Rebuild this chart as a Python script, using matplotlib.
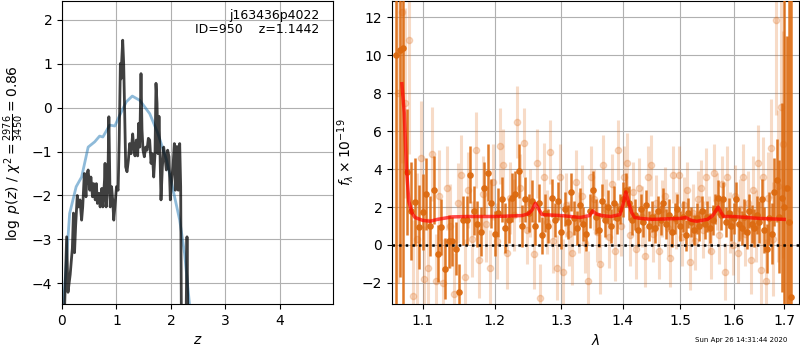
import numpy as np
import matplotlib
matplotlib.use('Agg')
import matplotlib.pyplot as plt
from matplotlib.ticker import FixedLocator, FormatStrFormatter, NullLocator

# ---- left panel: p(z) ----
z_prior = [0.02, 0.14, 0.26, 0.36, 0.48, 0.60, 0.69, 0.75, 0.875, 0.97, 1.06, 1.18, 1.29,
           1.43, 1.61, 1.76, 1.92, 2.04, 2.16, 2.25, 2.34, 2.40]
logp_prior = [-4.6, -2.41, -1.80, -1.58, -0.90, -0.78, -0.65, -0.67, -0.40, -0.42, -0.175, 0.13, 0.26,
              0.16, -0.14, -0.59, -1.20, -1.88, -2.56, -3.32, -4.47, -5.2]

z_fit = [0.03, 0.05, 0.085, 0.11, 0.15, 0.19, 0.21, 0.23, 0.25, 0.28, 0.30, 0.33, 0.36, 0.38,
         0.41, 0.44, 0.46, 0.48, 0.51, 0.53, 0.56, 0.58, 0.61, 0.63, 0.65, 0.68, 0.70, 0.73,
         0.75, 0.78, 0.79, 0.81, 0.84, 0.86, 0.885, 0.91, 0.93, 0.95, 0.97, 1.00, 1.03, 1.05,
         1.071, 1.083, 1.095, 1.114, 1.132, 1.15, 1.169, 1.193, 1.218, 1.242, 1.267, 1.297,
         1.316, 1.34, 1.364, 1.389, 1.407, 1.426, 1.45, 1.468, 1.487, 1.511, 1.536, 1.56,
         1.585, 1.609, 1.634, 1.658, 1.683, 1.707, 1.725, 1.744, 1.762, 1.78, 1.799, 1.817,
         1.842, 1.866, 1.89, 1.915, 1.939, 1.964, 1.988, 2.013, 2.037, 2.062, 2.08, 2.098,
         2.117, 2.135, 2.16, 2.178, 2.19, 2.21, 2.276, 2.294, 2.312]
logp_fit = [-6.0, -4.45, -2.94, -4.2, -3.8, -3.2, -2.4, -3.3, -2.7, -2.0, -2.26, -2.1, -2.56, -2.26,
            -1.5, -2.03, -1.5, -1.42, -1.88, -1.58, -2.03, -1.73, -2.1, -1.73, -2.18, -1.95, -2.26, -1.84,
            -2.26, -1.65, -1.27, -2.26, -1.8, -0.21, -2.26, -1.8, -2.1, -2.56, -2.26, -1.8, -1.88, -0.74,
            1.0, 0.65, 1.04, 1.53, 1.0, -0.1, -1.35, -1.46, -1.2, -0.82, -1.05, -0.6,
            -0.9, -1.1, -0.74, -1.1, -0.36, -0.9, 0.77, -0.5, -0.97, -1.12, -0.9, -0.97,
            -0.7, -0.74, -1.27, -1.05, -1.58, -1.05, 0.55, 0.1, -1.05, -0.2, -1.05, -2.1,
            -1.35, -0.9, -1.12, -1.42, -0.97, -1.12, -2.1, -1.65, -1.35, -0.82, -1.88, -0.89,
            -0.89, -1.88, -0.82, -1.8, -4.6, -5.5, -5.0, -2.94, -5.0]

# ---- right panel: spectrum ----
wave_dark = [1.065, 1.070, 1.075, 1.080, 1.085, 1.090, 1.095, 1.100, 1.105, 1.110, 1.115, 1.120,
             1.125, 1.130, 1.135, 1.140, 1.145, 1.150, 1.155, 1.160, 1.165, 1.170, 1.175, 1.180,
             1.185, 1.190, 1.195, 1.200, 1.205, 1.210, 1.215, 1.220, 1.225, 1.230, 1.235, 1.240,
             1.245, 1.250, 1.255, 1.260, 1.265, 1.270, 1.275, 1.280, 1.285, 1.290, 1.295, 1.300,
             1.305, 1.310, 1.315, 1.320, 1.325, 1.330, 1.335, 1.340, 1.345, 1.350, 1.355, 1.360,
             1.365, 1.370, 1.375, 1.380, 1.385, 1.390, 1.395, 1.400, 1.405, 1.410, 1.415, 1.420,
             1.425, 1.430, 1.435, 1.440, 1.445, 1.450, 1.455, 1.460, 1.465, 1.470, 1.475, 1.480,
             1.485, 1.490, 1.495, 1.500, 1.505, 1.510, 1.515, 1.520, 1.525, 1.530, 1.535, 1.540,
             1.545, 1.550, 1.555, 1.560, 1.565, 1.570, 1.575, 1.580, 1.585, 1.590, 1.595, 1.600,
             1.605, 1.610, 1.615, 1.620, 1.625, 1.630, 1.635, 1.640, 1.645, 1.650, 1.655, 1.660,
             1.665, 1.670, 1.675, 1.680, 1.685, 1.690, 1.695, 1.700, 1.705, 1.710, 1.715]
flux_dark = [10.0, 10.3, 10.4, 3.85, 1.8, 2.27, 0.95, 1.74, 2.71, 1.0, 2.9, -0.45,
             0.95, -1.25, 0.2, 0.2, -0.2, -2.5, 1.3, 1.3, 3.7, 1.8, 1.1, 0.7,
             3.0, 3.8, 2.2, 0.6, 1.7, 2.4, 0.9, 1.3, 2.5, 2.7, 3.9, 1.0,
             2.4, 1.7, 2.3, 1.0, 2.2, 0.5, 1.7, 1.0, 2.5, 1.3, 2.3, 0.7,
             1.9, 1.2, 2.8, 1.4, 0.9, 2.1, 1.1, 0.6, 1.8, 2.9, 1.5, 0.8,
             2.3, 1.3, 2.0, 1.0, 2.2, 1.4, 1.9, 2.4, 2.9, 2.2, 1.3, 1.6,
             0.8, 1.9, 1.2, 2.1, 1.0, 1.5, 0.9, 1.8, 1.3, 2.2, 1.1, 1.6,
             0.7, 1.4, 1.9, 1.0, 1.5, 0.5, 1.7, 1.2, 0.8, 1.4, 1.0, 1.8,
             1.1, 1.5, 0.9, 1.3, 1.9, 2.5, 1.6, 2.4, 1.2, 1.7, 1.0, 1.4,
             2.4, 1.1, 0.9, 1.5, 0.7, 1.8, 1.1, 0.9, 1.6, 1.2, 2.4, 0.8,
             -0.2, 1.4, 0.6, 2.8, 3.4, 1.5, 2.5, 2.0, 3.0, 1.2, -2.75]
err_dark = [14, 12, 15, 3.3, 2.6, 2.3, 2.2, 2.0, 1.9, 1.6, 1.8, 1.5,
            1.5, 1.6, 1.4, 1.3, 1.4, 1.5, 1.3, 1.3, 1.5, 1.3, 1.2, 1.3,
            1.4, 1.5, 1.3, 1.2, 1.3, 1.2, 1.3, 1.2, 1.3, 1.2, 1.4, 1.1,
            1.2, 1.0, 1.1, 1.0, 1.0, 1.0, 1.0, 0.9, 1.0, 0.9, 1.0, 0.9,
            0.9, 0.9, 1.0, 0.9, 0.9, 0.9, 0.9, 0.9, 0.9, 1.0, 0.9, 0.9,
            0.9, 0.9, 0.9, 0.9, 0.9, 0.8, 0.8, 0.9, 0.9, 0.9, 0.8, 0.8,
            0.8, 0.8, 0.8, 0.8, 0.8, 0.8, 0.8, 0.8, 0.8, 0.8, 0.8, 0.8,
            0.8, 0.8, 0.8, 0.8, 0.8, 0.8, 0.8, 0.8, 0.8, 0.8, 0.8, 0.8,
            0.8, 0.8, 0.8, 0.8, 0.8, 0.9, 0.8, 0.9, 0.8, 0.8, 0.8, 0.8,
            0.9, 0.9, 0.9, 0.9, 0.9, 0.9, 1.0, 1.0, 1.0, 1.1, 1.1, 1.2,
            1.3, 1.4, 1.6, 1.8, 2.2, 3.0, 5.0, 12, 8, 15, 16]

wave_light = [1.0675, 1.0725, 1.0775, 1.0825, 1.0875, 1.0925, 1.0975, 1.1025, 1.1075, 1.1125,
              1.1175, 1.1225, 1.1275, 1.1325, 1.1375, 1.1425, 1.1475, 1.1525, 1.1575, 1.1625,
              1.1675, 1.1725, 1.1775, 1.1825, 1.1875, 1.1925, 1.1975, 1.2025, 1.2075, 1.2125,
              1.2175, 1.2225, 1.2275, 1.2325, 1.2375, 1.2425, 1.2475, 1.2525, 1.2575, 1.2625,
              1.2675, 1.2725, 1.2775, 1.2825, 1.2875, 1.2925, 1.2975, 1.3025, 1.3075, 1.3125,
              1.3175, 1.3225, 1.3275, 1.3325, 1.3375, 1.3425, 1.3475, 1.3525, 1.3575, 1.3625,
              1.3675, 1.3725, 1.3775, 1.3825, 1.3875, 1.3925, 1.3975, 1.4025, 1.4075, 1.4125,
              1.4175, 1.4225, 1.4275, 1.4325, 1.4375, 1.4425, 1.4475, 1.4525, 1.4575, 1.4625,
              1.4675, 1.4725, 1.4775, 1.4825, 1.4875, 1.4925, 1.4975, 1.5025, 1.5075, 1.5125,
              1.5175, 1.5225, 1.5275, 1.5325, 1.5375, 1.5425, 1.5475, 1.5525, 1.5575, 1.5625,
              1.5675, 1.5725, 1.5775, 1.5825, 1.5875, 1.5925, 1.5975, 1.6025, 1.6075, 1.6125,
              1.6175, 1.6225, 1.6275, 1.6325, 1.6375, 1.6425, 1.6475, 1.6525, 1.6575, 1.6625,
              1.6675, 1.6725, 1.6775, 1.6825, 1.6875, 1.6925, 1.6975, 1.7025]
flux_light = [8.0, 12.3, 7.5, 10.8, -2.7, 0.3, 4.6, -1.8, -1.2, 4.8,
              -1.9, 2.6, -2.0, 3.0, 1.0, -2.6, 2.2, 3.7, -1.7, 2.9,
              0.3, 5.0, -0.8, 2.7, 1.1, -1.2, 3.3, 0.2, 5.2, 4.2,
              -0.4, 2.5, 1.6, 6.5, 3.0, 5.4, 0.8, 2.2, -0.5, 4.3,
              -2.8, 3.6, 1.2, 4.9, 0.2, -1.2, 3.6, -1.4, 2.1, 0.6,
              -0.4, 3.3, 1.2, 2.6, 0.1, -1.9, 3.6, 2.4, 0.7, -1.0,
              4.2, 1.9, 0.4, 3.2, -0.3, 5.0, 1.0, 3.6, 4.3, 0.5,
              2.8, -0.2, 3.0, 1.5, -0.6, 3.6, 4.2, 0.6, 2.2, -0.3,
              1.9, 2.6, 0.9, -0.7, 3.7, 1.3, 3.7, 0.4, 2.1, 2.9,
              -0.9, 1.7, 0.2, 2.4, 3.0, 0.8, 3.6, 1.1, -0.3, 3.8,
              2.3, 0.5, 3.2, -1.4, 3.6, 1.2, 0.0, 2.6, -0.4, 1.9,
              3.6, 0.6, 2.2, -0.8, 2.9, 1.0, 4.3, -1.3, 3.6, -1.9,
              2.5, 5.1, 0.3, 11.85, 3.1, 7.3, 5.3, 3.0]
err_light = [10, 8, 5, 6, 4, 3.5, 3, 2.8, 2.6, 2.5,
             2.5, 2.4, 2.3, 2.2, 2.2, 2.2, 2.1, 2.1, 2.0, 2.0,
             2.0, 2.0, 2.0, 2.0, 2.0, 2.0, 2.0, 2.0, 2.0, 1.9,
             1.9, 1.9, 1.9, 1.9, 1.8, 1.8, 1.8, 1.8, 1.8, 1.8,
             1.8, 1.8, 1.7, 1.7, 1.7, 1.7, 1.7, 1.7, 1.7, 1.7,
             1.7, 1.7, 1.6, 1.6, 1.6, 1.6, 1.6, 1.6, 1.6, 1.6,
             1.6, 1.6, 1.6, 1.6, 1.6, 1.6, 1.6, 1.6, 1.6, 1.6,
             1.6, 1.6, 1.6, 1.6, 1.6, 1.6, 1.6, 1.5, 1.5, 1.5,
             1.5, 1.5, 1.5, 1.5, 1.5, 1.5, 1.5, 1.5, 1.5, 1.5,
             1.5, 1.5, 1.5, 1.5, 1.5, 1.5, 1.5, 1.5, 1.5, 1.5,
             1.5, 1.5, 1.5, 1.5, 1.6, 1.6, 1.6, 1.6, 1.6, 1.6,
             1.7, 1.7, 1.7, 1.8, 1.8, 1.9, 2.0, 2.0, 2.1, 2.2,
             2.4, 2.6, 3.0, 5, 4, 6, 6, 8]

wave_model = [1.073, 1.076, 1.079, 1.082, 1.086, 1.09, 1.10, 1.11, 1.12, 1.14, 1.16, 1.20,
              1.24, 1.25, 1.255, 1.26, 1.265, 1.27, 1.30, 1.33, 1.345, 1.35, 1.355, 1.365,
              1.38, 1.395, 1.40, 1.405, 1.41, 1.415, 1.42, 1.43, 1.45, 1.50, 1.51, 1.52,
              1.53, 1.55, 1.56, 1.57, 1.575, 1.58, 1.60, 1.65, 1.70]
flux_model = [8.5, 7.0, 4.0, 2.3, 1.7, 1.45, 1.3, 1.25, 1.35, 1.48, 1.5, 1.5,
              1.55, 1.65, 1.85, 2.2, 1.9, 1.6, 1.55, 1.45, 1.55, 1.8, 1.65, 1.55,
              1.5, 1.6, 2.1, 2.8, 2.2, 1.7, 1.45, 1.4, 1.35, 1.4, 1.45, 1.3,
              1.25, 1.35, 1.55, 2.0, 1.75, 1.5, 1.5, 1.4, 1.35]

lam_ticks = [1.1, 1.2, 1.3, 1.4, 1.5, 1.6, 1.7]

fig = plt.figure(figsize=(8, 3.5), dpi=100)
ax1 = fig.add_axes([0.0775, 0.131, 0.3385, 0.866])
ax2 = fig.add_axes([0.49, 0.131, 0.509, 0.866])

# p(z)
ax1.plot(z_prior, logp_prior, color='#1f77b4', alpha=0.5, lw=2)
ax1.plot(z_fit, logp_fit, color='k', alpha=0.75, lw=2)
ax1.set_xlim(0, 4.97)
ax1.set_ylim(-4.47, 2.42)
ax1.set_xlabel('$z$')
ax1.set_ylabel(r'$\log\ p(z)$ / $\chi^2=\frac{2976}{3450}=0.86$')
ax1.grid(True)
ax1.text(0.95, 0.975, 'j163436p4022\nID=950    z=1.1442', transform=ax1.transAxes,
         ha='right', va='top', fontsize=9, linespacing=1.1)

# spectrum
ax2.errorbar(wave_light, flux_light, yerr=err_light, marker='o', linestyle='none',
             color='#e07020', alpha=0.25, markersize=4.5, elinewidth=2.2, zorder=2)
ax2.errorbar(wave_dark, flux_dark, yerr=err_dark, marker='o', linestyle='none',
             color='#dc6a10', alpha=0.9, markersize=3.8, elinewidth=1.8, zorder=3)
ax2.plot(wave_model, flux_model, color='red', alpha=0.7, lw=2.5, zorder=4)
ax2.axhline(0, color='k', linestyle=':', lw=1.8, zorder=5)
ax2.set_xscale('log')
ax2.set_xlim(1.0603, 1.731)
ax2.set_ylim(-3.12, 12.86)
ax2.xaxis.set_major_locator(FixedLocator(lam_ticks))
ax2.xaxis.set_major_formatter(FormatStrFormatter('%.1f'))
ax2.xaxis.set_minor_locator(NullLocator())
ax2.set_xlabel(r'$\lambda$')
ax2.set_ylabel(r'$f_\lambda\times10^{-19}$')
ax2.grid(True)

fig.text(0.984, 0.029, 'Sun Apr 26 14:31:44 2020', ha='right', va='center', fontsize=5)

fig.savefig('out.png', dpi=100)
